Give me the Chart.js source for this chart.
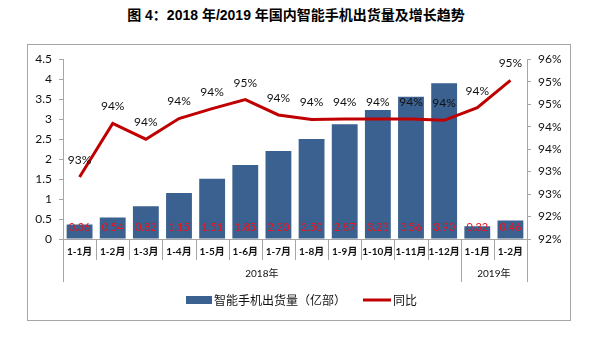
<!DOCTYPE html>
<html>
<head>
<meta charset="utf-8">
<script src="https://cdn.jsdelivr.net/npm/chart.js@4.4.1/dist/chart.umd.min.js"></script>
<style>
	html, body { margin: 0; padding: 0; background: #fff; }
	body { width: 592px; height: 341px; position: relative; overflow: hidden; }
	#title {
		position: absolute; left: 0; top: 6px; width: 592px; text-align: center;
		font: bold 14px "Liberation Sans", "Noto Sans CJK SC", sans-serif; line-height: 18px; color: #000;
	}
	#frame {
		position: absolute; left: 27px; top: 44px; width: 542px; height: 275px;
		border: 1px solid #a6a6a6;
	}
</style>
</head>
<body>
<div id="title">图 4：2018 年/2019 年国内智能手机出货量及增长趋势</div>
<div id="frame"><canvas id="chart" width="542" height="275"></canvas></div>
<script>
// data
var months = ['1-1月', '1-2月', '1-3月', '1-4月', '1-5月', '1-6月', '1-7月', '1-8月', '1-9月', '1-10月', '1-11月', '1-12月', '1-1月', '1-2月'];
var years = ['2018年', '2019年'];
var yearSpans = [12, 2];
var shipments = [0.36, 0.54, 0.82, 1.15, 1.51, 1.85, 2.20, 2.50, 2.87, 3.23, 3.56, 3.90, 0.32, 0.46];
var growth = [93.38, 94.57, 94.22, 94.68, 94.9, 95.1, 94.76, 94.66, 94.67, 94.67, 94.67, 94.64, 94.92, 95.53];
var leftTicks = ['0', '0.5', '1', '1.5', '2', '2.5', '3', '3.5', '4', '4.5'];
var rightTicks = ['92%', '92%', '93%', '93%', '94%', '94%', '95%', '95%', '96%'];
var seriesNames = ['智能手机出货量（亿部）', '同比'];

var barColor = '#3a6190';
var lineColor = '#c00000';
var axisColor = '#a6a6a6';
var latin = '"Lato", "Noto Sans CJK SC", sans-serif';

var extras = {
	id: 'extras',
	afterDatasetsDraw: function (chart) {
		var ctx = chart.ctx;
		var area = chart.chartArea;
		ctx.save();

		// values inside the bars
		ctx.font = '11px ' + latin;
		ctx.fillStyle = '#e8141e';
		ctx.textAlign = 'center';
		ctx.textBaseline = 'middle';
		chart.getDatasetMeta(0).data.forEach(function (bar, i) {
			ctx.fillText(shipments[i].toFixed(2), bar.x, area.bottom - 12);
		});

		// labels over the line
		ctx.font = '12px ' + latin;
		ctx.fillStyle = '#111';
		chart.getDatasetMeta(1).data.forEach(function (pt, i) {
			ctx.fillText(Math.floor(growth[i]) + '%', pt.x, pt.y - 17);
		});
		ctx.restore();
	},
	afterDraw: function (chart) {
		var ctx = chart.ctx;
		var x = chart.scales.x;
		var area = chart.chartArea;
		var half = (x.getPixelForValue(1) - x.getPixelForValue(0)) / 2;
		ctx.save();
		ctx.strokeStyle = axisColor;
		ctx.lineWidth = 1;

		// category labels and separators
		ctx.font = 'bold 10px ' + latin;
		ctx.fillStyle = '#111';
		ctx.textAlign = 'center';
		ctx.textBaseline = 'middle';
		var edges = [0];
		var n = 0;
		yearSpans.forEach(function (s) { n += s; edges.push(n); });
		months.forEach(function (m, i) {
			var cx = x.getPixelForValue(i);
			ctx.fillText(m, cx, area.bottom + 13);
			var left = Math.round(cx - half) + 0.5;
			var len = edges.indexOf(i) >= 0 ? 43 : 21;
			ctx.beginPath();
			ctx.moveTo(left, area.bottom);
			ctx.lineTo(left, area.bottom + len);
			ctx.stroke();
		});
		var last = Math.round(x.getPixelForValue(months.length - 1) + half) + 0.5;
		ctx.beginPath();
		ctx.moveTo(last, area.bottom);
		ctx.lineTo(last, area.bottom + 43);
		ctx.stroke();

		// year labels
		ctx.font = '10px ' + latin;
		years.forEach(function (y, k) {
			var a = x.getPixelForValue(edges[k]) - half;
			var b = x.getPixelForValue(edges[k + 1] - 1) + half;
			ctx.fillText(y, (a + b) / 2, area.bottom + 35);
		});

		// legend
		var ly = 255;
		ctx.fillStyle = barColor;
		ctx.fillRect(158, ly - 4, 26, 8);
		ctx.font = '12px "Noto Sans CJK SC", sans-serif';
		ctx.fillStyle = '#111';
		ctx.textAlign = 'left';
		ctx.fillText(seriesNames[0], 186, ly);
		ctx.strokeStyle = lineColor;
		ctx.lineWidth = 3;
		ctx.beginPath();
		ctx.moveTo(335, ly);
		ctx.lineTo(363, ly);
		ctx.stroke();
		ctx.fillText(seriesNames[1], 365, ly);
		ctx.restore();
	}
};

new Chart(document.getElementById('chart'), {
	type: 'bar',
	data: {
		labels: months,
		datasets: [{
			label: seriesNames[0],
			data: shipments,
			backgroundColor: barColor,
			borderWidth: 0,
			categoryPercentage: 1,
			barPercentage: 0.78,
			yAxisID: 'y',
			order: 2
		}, {
			type: 'line',
			label: seriesNames[1],
			data: growth,
			borderColor: lineColor,
			borderWidth: 3,
			pointRadius: 0,
			tension: 0,
			yAxisID: 'y1',
			order: 1
		}]
	},
	options: {
		responsive: false,
		animation: false,
		layout: { padding: { top: 14, left: 0, right: 0, bottom: 0 } },
		plugins: {
			legend: { display: false },
			tooltip: { enabled: false }
		},
		scales: {
			x: {
				offset: true,
				grid: { display: false },
				border: { color: axisColor },
				ticks: { display: false },
				afterFit: function (s) { s.height = 81; }
			},
			y: {
				position: 'left',
				min: 0, max: 4.5,
				ticks: {
					stepSize: 0.5, padding: 7, color: '#111',
					font: { size: 12, family: latin },
					callback: function (v, i) { return leftTicks[i]; }
				},
				grid: { drawOnChartArea: false, tickLength: 4, color: axisColor },
				border: { color: axisColor },
				afterFit: function (s) { s.width = 35; }
			},
			y1: {
				position: 'right',
				min: 92, max: 96,
				ticks: {
					stepSize: 0.5, padding: 7, color: '#111',
					font: { size: 12, family: latin },
					callback: function (v, i) { return rightTicks[i]; }
				},
				grid: { drawOnChartArea: false, tickLength: 4, color: axisColor },
				border: { color: axisColor },
				afterFit: function (s) { s.width = 43; }
			}
		}
	},
	plugins: [extras]
});
</script>
</body>
</html>
